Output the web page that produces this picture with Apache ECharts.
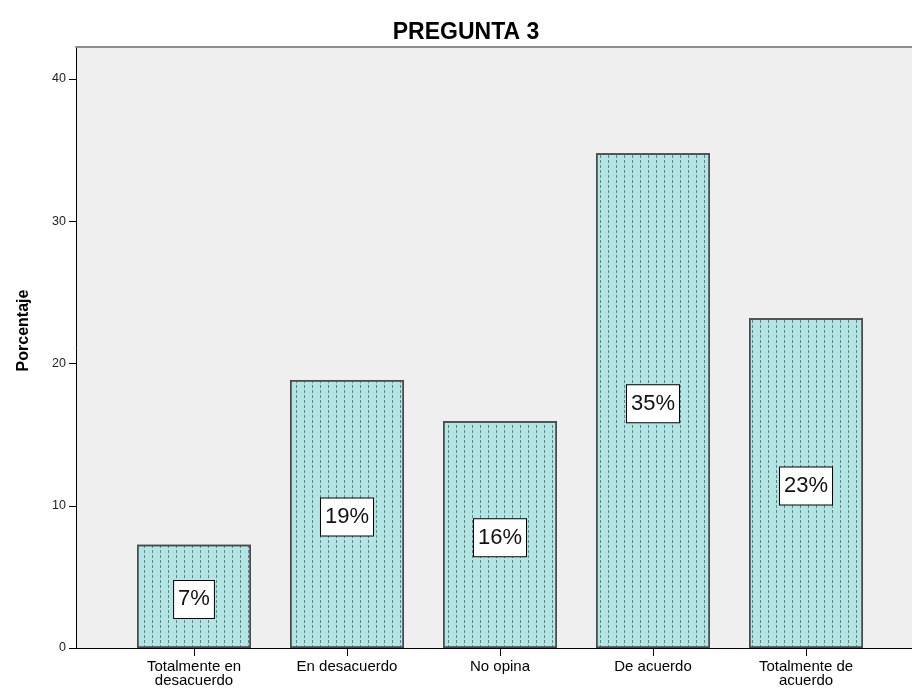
<!DOCTYPE html>
<html>
<head>
<meta charset="utf-8">
<title>PREGUNTA 3</title>
<script src="https://cdn.jsdelivr.net/npm/echarts@6/dist/echarts.min.js"></script>
<style>
  html, body { margin: 0; padding: 0; background: #ffffff; }
  #chart { width: 912px; height: 690px; }
</style>
</head>
<body>
<div id="chart"></div>
<script>
// Answer categories and their share of responses (percent)
const categories = ['Totalmente en\ndesacuerdo', 'En desacuerdo', 'No opina', 'De acuerdo', 'Totalmente de\nacuerdo'];
const percentages = [7.25, 18.84, 15.94, 34.78, 23.19];
const yTicks = [0, 10, 20, 30, 40];

const FONT = '"Liberation Sans", Arial, sans-serif';
const Y_MAX = 42.25;

const chart = echarts.init(document.getElementById('chart'), null, { renderer: 'canvas' });

chart.setOption({
  animation: false,
  backgroundColor: '#ffffff',
  title: {
    text: 'PREGUNTA 3',
    left: 461,
    top: 16,
    textAlign: 'center',
    textStyle: { fontFamily: FONT, fontSize: 23, fontWeight: 'bold', color: '#000' }
  },
  grid: [
    // frame with shaded background and the y axis
    { left: 76, right: -20, top: 47, bottom: 42, show: true, backgroundColor: '#efefef', borderWidth: 0 },
    // band where the bars sit
    { left: 117.5, width: 765, top: 47, bottom: 42 }
  ],
  xAxis: [
    {
      gridIndex: 0, type: 'value', min: 0, max: 1, position: 'bottom',
      axisLine: { show: true, lineStyle: { color: '#000', width: 1 } },
      axisTick: { show: false }, axisLabel: { show: false }, splitLine: { show: false }
    },
    {
      gridIndex: 0, type: 'value', min: 0, max: 1, position: 'top',
      axisLine: { show: true, lineStyle: { color: '#8c8c8c', width: 2 } },
      axisTick: { show: false }, axisLabel: { show: false }, splitLine: { show: false }
    },
    {
      gridIndex: 1, type: 'category', data: categories, position: 'bottom',
      axisLine: { show: false },
      axisTick: { show: true, alignWithLabel: true, length: 8, lineStyle: { color: '#000' } },
      axisLabel: { fontFamily: FONT, fontSize: 15, color: '#000', margin: 12, lineHeight: 14, interval: 0 },
      splitLine: { show: false }
    }
  ],
  yAxis: [
    {
      gridIndex: 0, type: 'value', min: 0, max: Y_MAX,
      name: 'Porcentaje', nameLocation: 'middle', nameGap: 44, nameRotate: 90,
      nameTextStyle: { fontFamily: FONT, fontSize: 16, fontWeight: 'bold', color: '#000', padding: [0, 0, 0, 34] },
      axisLine: { show: true, lineStyle: { color: '#000', width: 1 } },
      axisTick: { show: true, length: 7, customValues: yTicks, lineStyle: { color: '#000' } },
      axisLabel: { customValues: yTicks, fontFamily: FONT, fontSize: 12.5, color: '#222', margin: 10 },
      splitLine: { show: false }
    },
    {
      gridIndex: 1, type: 'value', min: 0, max: Y_MAX, show: false,
      splitLine: { show: false }
    }
  ],
  series: [
    {
      type: 'bar',
      xAxisIndex: 2,
      yAxisIndex: 1,
      data: percentages,
      barWidth: 114,
      itemStyle: {
        color: '#b3e5e5',
        borderColor: '#4a4a4a',
        borderWidth: 1.5,
        decal: {
          symbol: 'rect',
          symbolSize: 1,
          color: '#5f8283',
          dashArrayX: [1, 6.5],
          dashArrayY: [3, 2],
          rotation: 0
        }
      },
      label: {
        show: true,
        position: 'inside',
        offset: [0, 3],
        formatter: p => Math.round(p.value) + '%',
        fontFamily: FONT,
        fontSize: 22,
        color: '#111',
        backgroundColor: '#ffffff',
        borderColor: '#000',
        borderWidth: 1,
        padding: [8, 4, 7, 4]
      }
    }
  ]
});
</script>
</body>
</html>
